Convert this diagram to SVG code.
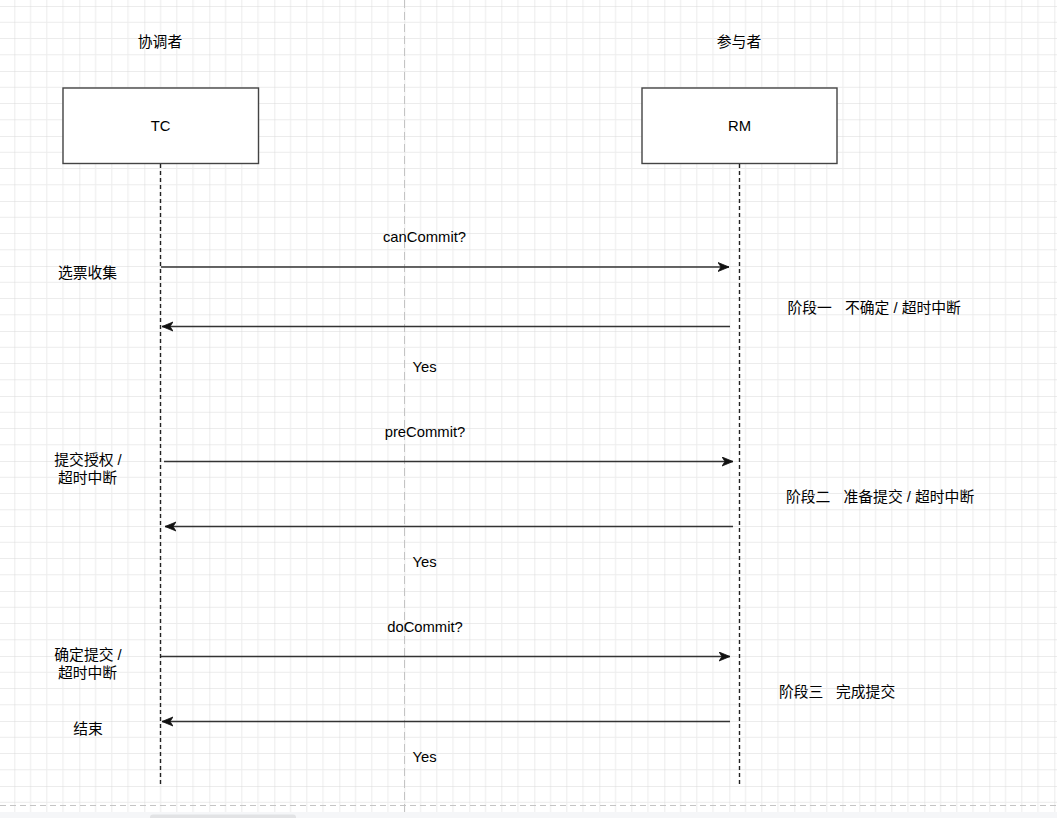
<svg xmlns="http://www.w3.org/2000/svg" width="1057" height="818" viewBox="0 0 1057 818">
<style>
text{font-family:"Liberation Sans","Noto Sans CJK SC",Arial,sans-serif;font-size:14.8px;fill:#000;}
.c{text-anchor:middle;dominant-baseline:central;}
.l{text-anchor:start;dominant-baseline:central;}
.box{fill:#fff;stroke:#444;stroke-width:1.4;}
.life{stroke:#222;stroke-width:1.4;stroke-dasharray:4 3;fill:none;}
.msg{stroke:#333;stroke-width:1.4;fill:none;}
</style>
<defs>
<pattern id="grid" patternUnits="userSpaceOnUse" x="14.3" y="6" width="65" height="65">
<path d="M16.25 0V65M32.5 0V65M48.75 0V65M0 16.25H65M0 32.5H65M0 48.75H65" stroke="#ececec" stroke-width="1"/>
<path d="M0 0V65M0 0H65" stroke="#d9d9d9" stroke-width="1"/>
</pattern>
<marker id="arr" markerUnits="userSpaceOnUse" markerWidth="14" markerHeight="12" refX="11" refY="5" orient="auto">
<path d="M0,0.5 L11,5 L0,9.5 L3,5 Z" fill="#111" stroke="#111" stroke-width="0.8" stroke-linejoin="miter"/>
</marker>
</defs>
<rect x="0" y="0" width="1057" height="818" fill="#fff"/>
<rect x="0" y="0" width="1057" height="812" fill="url(#grid)"/>
<line x1="404.5" y1="0" x2="404.5" y2="812" stroke="#c4c4c4" stroke-width="1" stroke-dasharray="8 4"/>
<line x1="0" y1="805.5" x2="1057" y2="805.5" stroke="#c4c4c4" stroke-width="1" stroke-dasharray="6 4"/>
<rect x="0" y="812" width="1057" height="6" fill="#f5f6f8"/>
<rect x="150" y="814.5" width="146" height="6" rx="3" fill="#e2e3e5"/>

<g id="label-coordinator"><text class="c" x="160" y="42">协调者</text></g>
<g id="label-participant"><text class="c" x="739" y="42">参与者</text></g>

<g id="node-TC">
<rect class="box" x="63" y="88" width="195.5" height="75.5"/>
<text class="c" x="160.5" y="126">TC</text>
</g>
<g id="node-RM">
<rect class="box" x="642" y="88" width="195" height="75.5"/>
<text class="c" x="739.5" y="126">RM</text>
</g>

<g id="connectors">
<line class="life" x1="160.5" y1="164" x2="160.5" y2="787"/>
<line class="life" x1="739.5" y1="164" x2="739.5" y2="787"/>
<line class="msg" x1="161" y1="267" x2="729" y2="267" marker-end="url(#arr)"/>
<line class="msg" x1="730" y1="326.5" x2="162" y2="326.5" marker-end="url(#arr)"/>
<line class="msg" x1="164" y1="461.5" x2="733" y2="461.5" marker-end="url(#arr)"/>
<line class="msg" x1="733" y1="526.5" x2="165" y2="526.5" marker-end="url(#arr)"/>
<line class="msg" x1="161" y1="656.5" x2="730" y2="656.5" marker-end="url(#arr)"/>
<line class="msg" x1="730" y1="721.5" x2="162" y2="721.5" marker-end="url(#arr)"/>
</g>

<g id="msg-labels">
<text class="c" x="424.5" y="237">canCommit?</text>
<text class="c" x="424.5" y="367">Yes</text>
<text class="c" x="425" y="432">preCommit?</text>
<text class="c" x="424.5" y="562">Yes</text>
<text class="c" x="425" y="627">doCommit?</text>
<text class="c" x="424.5" y="757">Yes</text>
</g>

<g id="left-notes">
<text class="c" x="87.5" y="273">选票收集</text>
<text class="c" x="88" y="460">提交授权 /</text>
<text class="c" x="87.5" y="478">超时中断</text>
<text class="c" x="88" y="655">确定提交 /</text>
<text class="c" x="87.5" y="673">超时中断</text>
<text class="c" x="88" y="729">结束</text>
</g>

<g id="phase-notes">
<text class="l" x="787.5" y="308">阶段一<tspan x="845">不确定 / 超时中断</tspan></text>
<text class="l" x="786" y="497">阶段二<tspan x="843.5">准备提交 / 超时中断</tspan></text>
<text class="l" x="779" y="692">阶段三<tspan x="836">完成提交</tspan></text>
</g>
</svg>
